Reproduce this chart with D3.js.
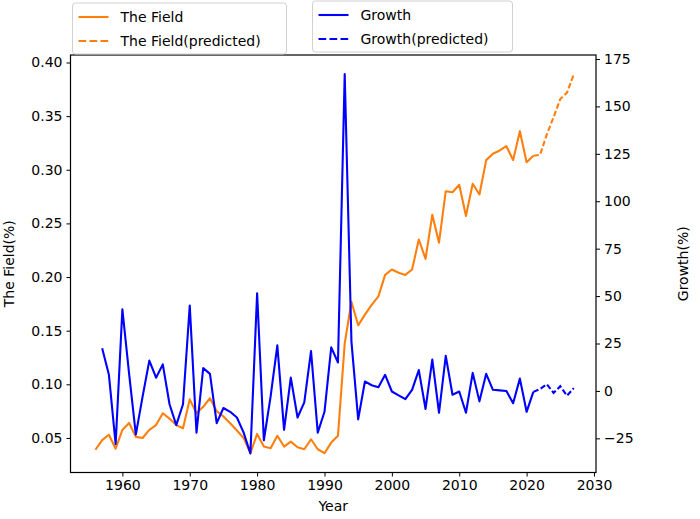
<!DOCTYPE html>
<html><head><meta charset="utf-8">
<script src="https://cdn.jsdelivr.net/npm/d3@7"></script>
<style>
html,body{margin:0;padding:0;background:#fff;}
text{font-family:"DejaVu Sans",sans-serif;}
</style></head>
<body><div id="chart"></div>
<script>
// ---------- data ----------
const fieldYears = [1956,1957,1958,1959,1960,1961,1962,1963,1964,1965,1966,1967,1968,1969,1970,1971,1972,1973,1974,1975,1976,1977,1978,1979,1980,1981,1982,1983,1984,1985,1986,1987,1988,1989,1990,1991,1992,1993,1994,1995,1996,1997,1998,1999,2000,2001,2002,2003,2004,2005,2006,2007,2008,2009,2010,2011,2012,2013,2014,2015,2016,2017,2018,2019,2020,2021];
const fieldValues = [0.039,0.048,0.053,0.040,0.0575,0.064,0.051,0.050,0.0575,0.062,0.073,0.068,0.062,0.059,0.086,0.073,0.079,0.087,0.075,0.070,0.0637,0.057,0.0498,0.0358,0.0538,0.042,0.0404,0.052,0.042,0.0466,0.0414,0.0395,0.0488,0.0395,0.0358,0.0457,0.052,0.138,0.177,0.155,0.165,0.174,0.182,0.202,0.207,0.204,0.202,0.207,0.235,0.217,0.258,0.232,0.280,0.279,0.286,0.257,0.287,0.277,0.309,0.315,0.318,0.322,0.309,0.336,0.307,0.313];
const predYears = [2021,2022,2023,2024,2025,2026,2027];
const fieldPred = [0.313,0.314,0.333,0.349,0.366,0.372,0.389];
const growthYears = [1957,1958,1959,1960,1961,1962,1963,1964,1965,1966,1967,1968,1969,1970,1971,1972,1973,1974,1975,1976,1977,1978,1979,1980,1981,1982,1983,1984,1985,1986,1987,1988,1989,1990,1991,1992,1993,1994,1995,1996,1997,1998,1999,2000,2001,2002,2003,2004,2005,2006,2007,2008,2009,2010,2011,2012,2013,2014,2015,2016,2017,2018,2019,2020,2021];
const growthValues = [22.5,8.5,-28,43,9,-23,-3,16,7,14,-7,-18,-7,45,-22,12,9,-17,-9,-11,-14,-22,-33,51.5,-26,-3,24,-20.5,7,-14,-6,21,-22,-11,23,15,167,26,-15,5,3,2,8.5,-0.3,-2.3,-4.3,0.6,11,-9.5,16.5,-11.5,18.5,-2,-0.3,-11.5,9.5,-5.5,9,0.6,0.3,0,-6.5,6.5,-11,-0.5];
const growthPred = [-0.5,1,3.5,-1,2.5,-2.5,1.5];
const xTicks = [1960,1970,1980,1990,2000,2010,2020,2030];
const leftTicks = [0.05,0.10,0.15,0.20,0.25,0.30,0.35,0.40];
const rightTicks = [-25,0,25,50,75,100,125,150,175];

// ---------- layout ----------
const W = 700, H = 519;
const L = 70.5, R = 596, T = 55, B = 472.5;
const ORANGE = "#ff7f0e", BLUE = "#0000ff";

const svg = d3.select("#chart").append("svg").attr("width", W).attr("height", H);

const x = d3.scaleLinear().domain([1952.3, 2030.3]).range([L, R]);
const yL = d3.scaleLinear().domain([0.0178, 0.407]).range([B, T]);
const yR = d3.scaleLinear().domain([-43.0, 177.1]).range([B, T]);

const fs = 14;
const gx = svg.append("g").attr("transform", `translate(0,${B})`)
  .call(d3.axisBottom(x).tickValues(xTicks).tickFormat(d3.format("d")).tickSize(4).tickPadding(4));
const gl = svg.append("g").attr("transform", `translate(${L},0)`)
  .call(d3.axisLeft(yL).tickValues(leftTicks).tickFormat(d3.format(".2f")).tickSize(4).tickPadding(4));
const gr = svg.append("g").attr("transform", `translate(${R},0)`)
  .call(d3.axisRight(yR).tickValues(rightTicks).tickFormat(d => d < 0 ? "\u2212" + Math.abs(d) : d).tickSize(4).tickPadding(4));
[gx, gl, gr].forEach(g => {
  g.select(".domain").remove();
  g.selectAll("line").attr("stroke", "#000").attr("stroke-width", 1);
  g.selectAll("text").attr("font-size", fs).attr("fill", "#000").attr("font-family", "DejaVu Sans");
});
svg.append("rect").attr("x", L).attr("y", T).attr("width", R - L).attr("height", B - T)
  .attr("fill", "none").attr("stroke", "#000").attr("stroke-width", 1.2);

const lineL = d3.line().x(d => x(d[0])).y(d => yL(d[1]));
const lineR = d3.line().x(d => x(d[0])).y(d => yR(d[1]));
svg.append("clipPath").attr("id", "c").append("rect").attr("x", L).attr("y", T).attr("width", R - L).attr("height", B - T);
const plot = svg.append("g").attr("clip-path", "url(#c)");
plot.append("path").datum(fieldYears.map((yr, i) => [yr, fieldValues[i]]))
  .attr("d", lineL).attr("fill", "none").attr("stroke", ORANGE).attr("stroke-width", 2.1).attr("stroke-linejoin", "round");
plot.append("path").datum(predYears.map((yr, i) => [yr, fieldPred[i]]))
  .attr("d", lineL).attr("fill", "none").attr("stroke", ORANGE).attr("stroke-width", 2.1).attr("stroke-dasharray", "5.5,2.5");
plot.append("path").datum(growthYears.map((yr, i) => [yr, growthValues[i]]))
  .attr("d", lineR).attr("fill", "none").attr("stroke", BLUE).attr("stroke-width", 2.1).attr("stroke-linejoin", "round");
plot.append("path").datum(predYears.map((yr, i) => [yr, growthPred[i]]))
  .attr("d", lineR).attr("fill", "none").attr("stroke", BLUE).attr("stroke-width", 2.1).attr("stroke-dasharray", "5.5,2.5");

svg.append("text").attr("x", (L + R) / 2).attr("y", 511).attr("text-anchor", "middle").attr("font-size", fs).text("Year");
svg.append("text").attr("transform", `translate(14,${(T + B) / 2}) rotate(-90)`).attr("text-anchor", "middle").attr("font-size", fs).text("The Field(%)");
svg.append("text").attr("transform", `translate(688,${(T + B) / 2}) rotate(-90)`).attr("text-anchor", "middle").attr("font-size", fs).text("Growth(%)");

function legend(x0, y0, w, h, items, color) {
  const g = svg.append("g");
  g.append("rect").attr("x", x0).attr("y", y0).attr("width", w).attr("height", h).attr("rx", 3)
    .attr("fill", "#fff").attr("fill-opacity", 0.85).attr("stroke", "#d0d0d0").attr("stroke-width", 1);
  items.forEach((it, i) => {
    const yy = y0 + 14 + i * 24;
    g.append("line").attr("x1", x0 + 6).attr("x2", x0 + 36).attr("y1", yy).attr("y2", yy)
      .attr("stroke", color).attr("stroke-width", 2.1).attr("stroke-dasharray", it.dash ? "7.7,3.3" : null);
    g.append("text").attr("x", x0 + 48).attr("y", yy + 5).attr("font-size", fs).text(it.label);
  });
}
legend(72.5, 3, 214, 51, [{label: "The Field", dash: false}, {label: "The Field(predicted)", dash: true}], ORANGE);
legend(312.5, 1, 200, 51, [{label: "Growth", dash: false}, {label: "Growth(predicted)", dash: true}], BLUE);
</script></body></html>
